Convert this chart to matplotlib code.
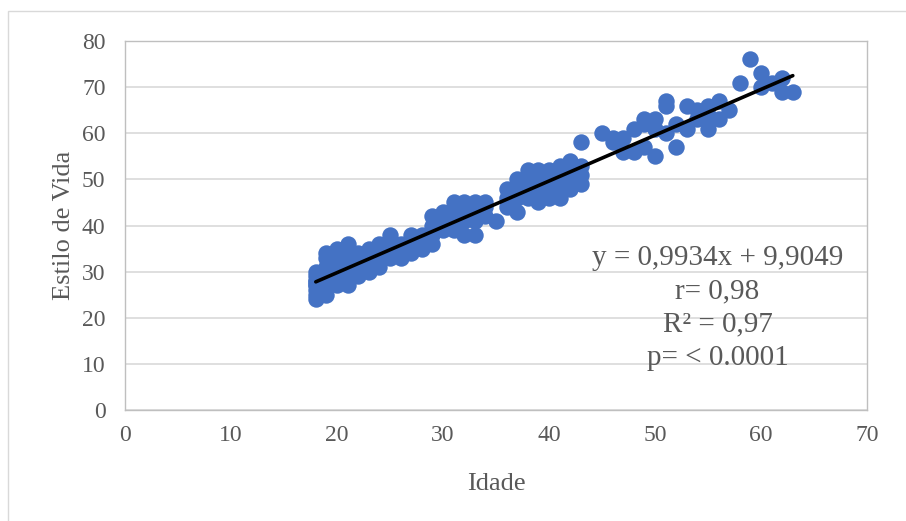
import matplotlib.pyplot as plt
import numpy as np
from matplotlib.patches import Rectangle

# dados (idade, estilo de vida)
idade = [
    18, 18, 18, 18, 18, 18, 18, 18, 18,
    19, 19, 19, 19, 19, 19, 19,
    20, 20, 20, 20, 20, 20,
    21, 21, 21, 21, 21, 21,
    22, 22, 22, 22,
    23, 23, 23, 23,
    24, 24, 24, 24,
    25, 25, 25, 25,
    26, 26, 26,
    27, 27, 27,
    28, 28, 28,
    29, 29, 29, 29,
    30, 30, 30,
    31, 31, 31, 31,
    32, 32, 32, 32,
    33, 33, 33, 33,
    34, 34, 34,
    35,
    36, 36, 36,
    37, 37, 37, 37,
    38, 38, 38, 38,
    39, 39, 39, 39,
    40, 40, 40, 40,
    41, 41, 41, 41,
    42, 42, 42, 42,
    43, 43, 43, 43,
    45,
    46, 46,
    47, 47,
    48, 48,
    49, 49, 49,
    50, 50, 50,
    51, 51, 51,
    52, 52,
    53, 53,
    54, 54,
    55, 55, 55,
    56, 56,
    57,
    58,
    59,
    60, 60,
    61,
    62, 62,
    63,
]
estilo_vida = [
    24, 25, 26, 27, 28, 29, 30, 28, 27,
    25, 27, 29, 31, 33, 34, 28,
    27, 29, 31, 33, 35, 30,
    27, 29, 32, 34, 36, 31,
    29, 31, 33, 34,
    30, 32, 34, 35,
    31, 33, 35, 36,
    33, 35, 37, 38,
    33, 35, 36,
    34, 36, 38,
    35, 37, 38,
    36, 38, 40, 42,
    39, 41, 43,
    39, 42, 44, 45,
    38, 41, 43, 45,
    38, 41, 44, 45,
    42, 44, 45,
    41,
    44, 46, 48,
    43, 46, 48, 50,
    46, 48, 50, 52,
    45, 47, 50, 52,
    46, 48, 50, 52,
    46, 49, 51, 53,
    48, 50, 52, 54,
    49, 51, 53, 58,
    60,
    58, 59,
    56, 59,
    56, 61,
    57, 62, 63,
    55, 61, 63,
    60, 66, 67,
    57, 62,
    61, 66,
    63, 65,
    61, 64, 66,
    63, 67,
    65,
    71,
    76,
    70, 73,
    71,
    69, 72,
    69,
]

# reta de regressão (Excel)
inclinacao = 0.9934
intercepto = 9.9049
anotacoes = ["y = 0,9934x + 9,9049", "r= 0,98", "R² = 0,97", "p= < 0.0001"]

plt.rcParams["font.family"] = ["Liberation Serif", "DejaVu Serif"]
cor_texto = "#595959"

fig = plt.figure(figsize=(9.06, 5.21), dpi=100)
fig.patches.append(Rectangle((8 / 906, -0.01), 1.0, 1 - 11 / 521 + 0.01,
                             transform=fig.transFigure, fill=False,
                             edgecolor="#D9D9D9", linewidth=1.0))
ax = fig.add_axes([125 / 906, 111 / 521, 742 / 906, 369 / 521])

ax.scatter(idade, estilo_vida, s=140, color="#4472C4", linewidths=0, zorder=3)

x_linha = np.array([min(idade), max(idade)])
ax.plot(x_linha, inclinacao * x_linha + intercepto, color="black", linewidth=2.6,
        solid_capstyle="round", zorder=4)

ax.set_xlim(0, 70)
ax.set_ylim(0, 80)
ax.set_xticks(range(0, 71, 10))
ax.set_yticks(range(0, 81, 10))
ax.grid(axis="y", color="#D9D9D9", linewidth=1.2)
ax.set_axisbelow(True)
for s in ax.spines.values():
    s.set_color("#BFBFBF")
    s.set_linewidth(1.0)
ax.tick_params(axis="y", length=0, labelsize=17, labelcolor=cor_texto, pad=14)
ax.tick_params(axis="x", length=0, labelsize=17, labelcolor=cor_texto, pad=11)

ax.set_xlabel("Idade", fontsize=19, color=cor_texto, labelpad=19)
ax.set_ylabel("Estilo de Vida", fontsize=19, color=cor_texto, labelpad=5)

for i, txt in enumerate(anotacoes):
    ax.text(55.9, 32.9 - i * 7.2, txt, fontsize=21, color=cor_texto,
            ha="center", va="center", zorder=5)

fig.savefig("out.png", dpi=100)
